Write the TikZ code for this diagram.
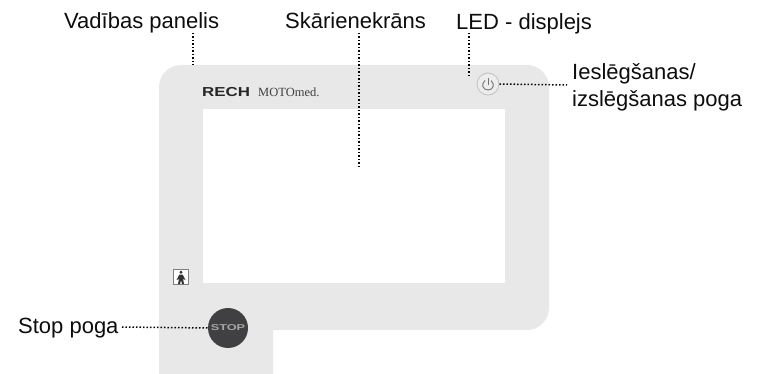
\documentclass[tikz,border=0pt]{standalone}
\usepackage{fontspec}
\setmainfont{Liberation Sans}
\definecolor{panelgray}{RGB}{232,232,232}
\definecolor{stopgray}{RGB}{64,64,66}
\tikzset{
  lbl/.style={inner sep=0pt,anchor=base west,font=\fontsize{22}{24}\selectfont,text=black!95,align=left},
  lead/.style={line width=1.5pt,dash pattern=on 1.5pt off 2pt,black},
}
\begin{document}
\begin{tikzpicture}[x=1pt,y=-1pt]
\useasboundingbox (0,0) rectangle (763,374);
% panel
\fill[panelgray] (159,374) [rounded corners=22pt] -- (159,65) -- (549,65) -- (549,330) [sharp corners] -- (273,330) -- (273,374) -- cycle;
\fill[white] (203,109) rectangle (505,283);
% logo
\node[inner sep=0pt,anchor=base west,font=\fontsize{13}{13}\selectfont\bfseries,text=black!85] (logo) at (202,96.5) {\scalebox{1.3}[1]{RECH}};
\node[inner sep=0pt,anchor=base west,font=\fontsize{12.5}{13}\selectfont,text=black!75] (moto) at (258,96.5) {\fontspec{Liberation Serif}MOTOmed.};
% power button
\node[circle,minimum size=22pt,inner sep=0,fill=black!7,draw=black!22,line width=1pt] (power) at (488,84) {};
\draw[black!55,line width=.9pt] (488,78) -- (488,85);
\draw[black!55,line width=.9pt] (485,80.5) .. controls (480.5,84.5) and (483,90) .. (488,90) .. controls (493,90) and (495.5,84.5) .. (491,80.5);
% person icon
\node[draw=black!50,fill=white,line width=.8pt,minimum width=14.5pt,minimum height=14.5pt,inner sep=0] (person) at (181,277) {};
\fill[black!80] (181,272.3) circle (1.6);
\fill[black!80] (179.4,274.5) -- (182.6,274.5) -- (185.5,280) -- (183,279) -- (184,284) -- (182,284) -- (181,280) -- (180,284) -- (178,284) -- (179,279) -- (176.5,280) -- cycle;
% stop button
\node[circle,minimum size=40pt,inner sep=0,fill=stopgray,text=black!35,font=\fontsize{8.5}{9}\selectfont\bfseries] (stop) at (228,328) {\scalebox{1.5}[1]{STOP}};
% labels
\node[lbl] (vad) at (64,29) {Vadības panelis};
\node[lbl] (ska) at (285,29) {Skārienekrāns};
\node[lbl] (led) at (456,30) {LED - displejs};
\node[lbl] (ies) at (572,80) {Ieslēgšanas/};
\node[lbl] (izs) at (572,107) {izslēgšanas poga};
\node[lbl] (sto) at (18,333) {Stop poga};
% connector ends
\coordinate (vadStart) at (193,33);
\coordinate (panelEdge) at (193,65);
\coordinate (skaStart) at (359,33);
\coordinate (screenPt) at (359,167);
\coordinate (ledStart) at (469,33);
\coordinate (ledEnd) at (469,76);
\coordinate (iesEnd) at (567,85);
\coordinate (stoStart) at (122,327);
\draw[lead] (vadStart) -- (panelEdge);
\draw[lead] (skaStart) -- (screenPt);
\draw[lead] (ledStart) -- (ledEnd);
\draw[lead] (power.east) -- (iesEnd);
\draw[lead] (stoStart) -- (stop.west);
\end{tikzpicture}
\end{document}
